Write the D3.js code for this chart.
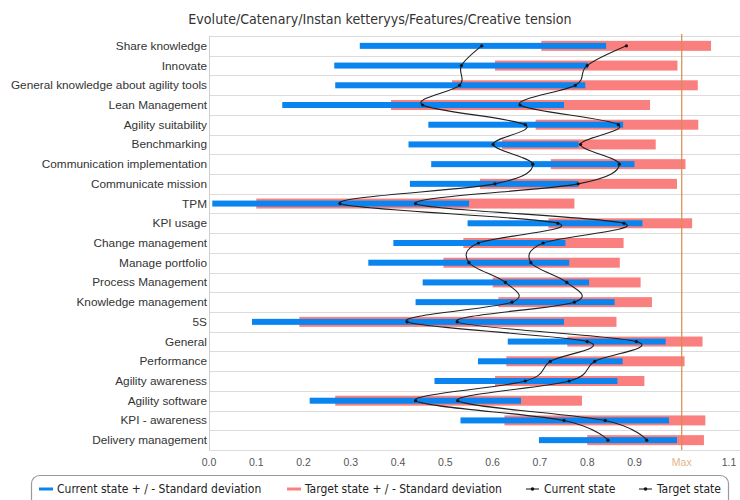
<!DOCTYPE html>
<html>
<head>
<meta charset="utf-8">
<script src="https://cdn.jsdelivr.net/npm/d3@7"></script>
<style>
  html, body { margin: 0; padding: 0; background: #fff; }
  svg { display: block; font-family: "Liberation Sans", Arial, sans-serif; }
</style>
</head>
<body>
<svg id="chart" width="740" height="500"></svg>
<script>
// ── Data ───────────────────────────────────────────────────────────────────
const categories = [
  'Share knowledge', 'Innovate', 'General knowledge about agility tools',
  'Lean Management', 'Agility suitability', 'Benchmarking',
  'Communication implementation', 'Communicate mission', 'TPM', 'KPI usage',
  'Change management', 'Manage portfolio', 'Process Management',
  'Knowledge management', '5S', 'General', 'Performance', 'Agility awareness',
  'Agility software', 'KPI - awareness', 'Delivery management'
];
// current state +/- standard deviation
const curLo   = [0.319, 0.265, 0.267, 0.155, 0.464, 0.422, 0.470, 0.425, 0.007, 0.547, 0.390,
                 0.337, 0.452, 0.437, 0.091, 0.632, 0.569, 0.477, 0.213, 0.532, 0.698];
const curHi   = [0.840, 0.802, 0.796, 0.751, 0.876, 0.782, 0.900, 0.781, 0.550, 0.917, 0.754,
                 0.762, 0.804, 0.858, 0.751, 0.966, 0.875, 0.864, 0.660, 0.973, 0.990];
// target state +/- standard deviation
const tgtLo   = [0.703, 0.605, 0.514, 0.385, 0.691, 0.620, 0.723, 0.573, 0.100, 0.718, 0.538,
                 0.496, 0.600, 0.612, 0.191, 0.758, 0.629, 0.605, 0.267, 0.625, 0.800];
const tgtHi   = [1.062, 0.991, 1.034, 0.933, 1.035, 0.945, 1.008, 0.990, 0.773, 1.022, 0.877,
                 0.869, 0.913, 0.937, 0.862, 1.044, 1.006, 0.921, 0.789, 1.050, 1.047];
// means
const curMean = [0.577, 0.534, 0.530, 0.452, 0.669, 0.601, 0.685, 0.605, 0.277, 0.738, 0.570,
                 0.550, 0.627, 0.641, 0.419, 0.800, 0.722, 0.669, 0.437, 0.751, 0.844];
const tgtMean = [0.883, 0.800, 0.775, 0.658, 0.866, 0.786, 0.868, 0.781, 0.437, 0.878, 0.707,
                 0.681, 0.757, 0.773, 0.525, 0.904, 0.816, 0.762, 0.526, 0.838, 0.926];

const xTicks = [0, 0.1, 0.2, 0.3, 0.4, 0.5, 0.6, 0.7, 0.8, 0.9, 1.0, 1.1];
const maxValue = 1.0;
const title = 'Evolute/Catenary/Instan ketteryys/Features/Creative tension';

const legendItems = [
  { label: 'Current state + / - Standard deviation', kind: 'bar',  color: '#0a84ee' },
  { label: 'Target state + / - Standard deviation',  kind: 'bar',  color: '#fa8080' },
  { label: 'Current state',                          kind: 'line', color: '#111' },
  { label: 'Target state',                           kind: 'line', color: '#111' }
];

// ── Layout ────────────────────────────────────────────────────────────────
const svg = d3.select('#chart');
const plot = { left: 209, right: 740, top: 36, bottom: 450 };
const condensed = '"DejaVu Sans Condensed", "DejaVu Sans", sans-serif';

const x = d3.scaleLinear().domain([0, 1.1]).range([209, 729]);
const y = d3.scaleBand().domain(categories).range([plot.top, plot.bottom]).padding(0);
const yc = c => y(c) + y.bandwidth() / 2;

const BLUE = '#0a84ee', PINK = '#fa8080';

// title
svg.append('text')
  .attr('x', 380).attr('y', 24)
  .attr('text-anchor', 'middle')
  .attr('font-size', 14.1).attr('fill', '#333')
  .style('font-family', condensed)
  .text(title);

// grid lines between rows
const gridG = svg.append('g');
const bounds = categories.map(c => y(c)).concat([plot.bottom]);
gridG.selectAll('line.row').data(bounds).join('line')
  .attr('x1', plot.left).attr('x2', plot.right)
  .attr('y1', d => Math.round(d) + 0.5).attr('y2', d => Math.round(d) + 0.5)
  .attr('stroke', '#dcdcdc').attr('stroke-width', 1);
gridG.append('line')
  .attr('x1', plot.left + 0.5).attr('x2', plot.left + 0.5)
  .attr('y1', plot.top).attr('y2', plot.bottom)
  .attr('stroke', '#cfcfcf');

// category labels
svg.append('g').selectAll('text').data(categories).join('text')
  .attr('x', plot.left - 2).attr('y', d => yc(d) + 4)
  .attr('text-anchor', 'end')
  .attr('font-size', 11.8).attr('fill', '#333')
  .text(d => d);

// x tick labels
svg.append('g').selectAll('text').data(xTicks).join('text')
  .attr('x', d => x(d)).attr('y', 466)
  .attr('text-anchor', 'middle')
  .attr('font-size', 10.5)
  .attr('fill', d => d === maxValue ? '#e2b48a' : '#555')
  .text(d => d === maxValue ? 'Max' : d3.format('.1f')(d));

// ── Bars ──────────────────────────────────────────────────────────────────
const rows = categories.map((c, i) => ({
  cat: c, cLo: curLo[i], cHi: curHi[i], tLo: tgtLo[i], tHi: tgtHi[i],
  cM: curMean[i], tM: tgtMean[i]
}));

svg.append('g').selectAll('rect').data(rows).join('rect')
  .attr('x', d => x(d.tLo)).attr('width', d => x(d.tHi) - x(d.tLo))
  .attr('y', d => yc(d.cat) - 5).attr('height', 10)
  .attr('fill', PINK);

svg.append('g').selectAll('rect').data(rows).join('rect')
  .attr('x', d => x(d.cLo)).attr('width', d => x(d.cHi) - x(d.cLo))
  .attr('y', d => yc(d.cat) - 3).attr('height', 6)
  .attr('fill', BLUE);

// Max marker
svg.append('line')
  .attr('x1', x(maxValue)).attr('x2', x(maxValue))
  .attr('y1', plot.top - 2).attr('y2', plot.bottom)
  .attr('stroke', '#d98c4a').attr('stroke-width', 1.2);

// ── Curves ────────────────────────────────────────────────────────────────
const line = d3.line().curve(d3.curveCardinal.tension(0));
['cM', 'tM'].forEach(key => {
  const pts = rows.map(d => [x(d[key]), yc(d.cat)]);
  svg.append('path')
    .attr('d', line(pts))
    .attr('fill', 'none').attr('stroke', '#222').attr('stroke-width', 1.1);
  svg.append('g').selectAll('circle').data(pts).join('circle')
    .attr('cx', d => d[0]).attr('cy', d => d[1]).attr('r', 1.6)
    .attr('fill', '#111');
});

// ── Legend ────────────────────────────────────────────────────────────────
const legG = svg.append('g');
legG.append('rect')
  .attr('x', 31.5).attr('y', 475.5).attr('width', 697).attr('height', 40)
  .attr('rx', 8).attr('fill', '#fff').attr('stroke', '#999').attr('stroke-width', 1.2);

const legX = [39, 287, 526, 639];
legendItems.forEach((it, i) => {
  const g = legG.append('g').attr('transform', `translate(${legX[i]},489)`);
  if (it.kind === 'bar') {
    g.append('line').attr('x1', 0).attr('x2', 14).attr('y1', 0).attr('y2', 0)
      .attr('stroke', it.color).attr('stroke-width', 3);
  } else {
    g.append('line').attr('x1', 0).attr('x2', 13).attr('y1', 0).attr('y2', 0)
      .attr('stroke', it.color).attr('stroke-width', 1);
    g.append('circle').attr('cx', 6.5).attr('cy', 0).attr('r', 1.8).attr('fill', it.color);
  }
  g.append('text').attr('x', 18).attr('y', 4)
    .attr('font-size', 12).attr('fill', '#222')
    .style('font-family', condensed)
    .text(it.label);
});
</script>
</body>
</html>
